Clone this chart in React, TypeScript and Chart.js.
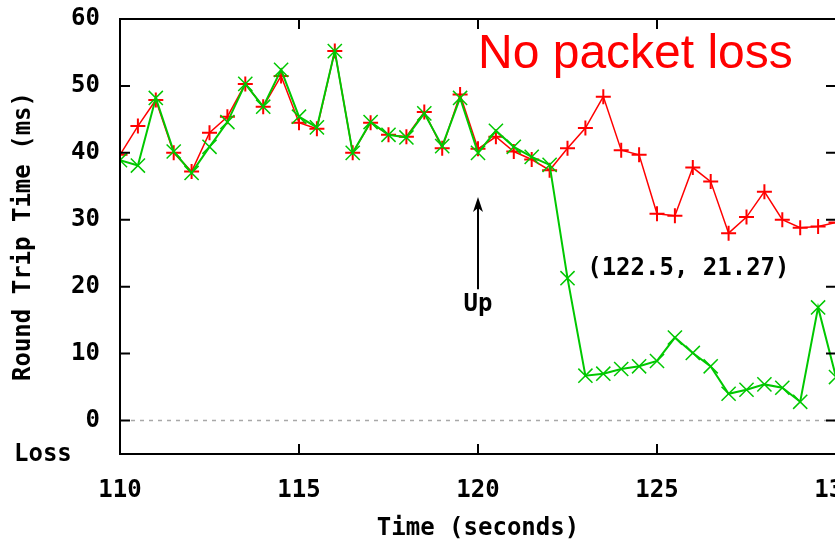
import React, { useEffect, useRef } from 'react';
import { Chart, registerables } from 'chart.js';

Chart.register(...registerables);

// Time axis (seconds)
const times = [
  110, 110.5, 111, 111.5, 112, 112.5, 113, 113.5, 114, 114.5,
  115, 115.5, 116, 116.5, 117, 117.5, 118, 118.5, 119, 119.5,
  120, 120.5, 121, 121.5, 122, 122.5, 123, 123.5, 124, 124.5,
  125, 125.5, 126, 126.5, 127, 127.5, 128, 128.5, 129, 129.5, 130,
];

// Red series (+ markers)
const rttRed = [
  39.7, 44.0, 47.9, 40.0, 37.2, 43.0, 45.4, 50.3, 46.9, 51.5,
  44.5, 43.6, 55.2, 40.0, 44.5, 42.7, 42.4, 46.1, 40.7, 48.7,
  40.6, 42.4, 40.2, 39.0, 37.4, 40.7, 43.7, 48.4, 40.4, 39.7,
  30.9, 30.6, 37.8, 35.7, 28.0, 30.4, 34.2, 30.0, 28.8, 29.0, 29.6,
];

// Green series (x markers)
const rttGreen = [
  38.9, 38.1, 48.2, 40.2, 37.0, 40.9, 44.6, 50.3, 46.9, 52.4,
  45.4, 43.8, 55.2, 40.0, 44.6, 42.7, 42.3, 45.9, 41.0, 48.2,
  40.0, 43.3, 40.9, 39.4, 38.2, 21.27, 6.7, 7.0, 7.7, 8.1,
  8.9, 12.4, 10.1, 8.1, 4.0, 4.6, 5.4, 4.9, 2.8, 16.9, 6.5,
];

const xTickValues = [110, 115, 120, 125, 130];
const yTickValues = [0, 10, 20, 30, 40, 50, 60];
const lossLabel = 'Loss';
const lossLevel = -5;
const xTitle = 'Time (seconds)';
const yTitle = 'Round Trip Time (ms)';
const headline = 'No packet loss';
const upLabel = 'Up';
const upArrow = { x: 120, from: 19.6, to: 33.4, labelY: 17.3 };
const pointLabel = { x: 122.5, y: 21.27, textX: 123.05, textY: 22.7 };
const headlinePos = { x: 120.0, y: 52.7 };

const RED = '#ff0000';
const GREEN = '#00c800';
const MONO = "'DejaVu Sans Mono', monospace";

const decor = {
  id: 'decor',
  beforeDatasetsDraw(chart: any) {
    const { ctx, chartArea: a, scales } = chart;
    const y = scales.y;
    const y0 = y.getPixelForValue(0);
    ctx.save();
    ctx.strokeStyle = '#a8a8a8';
    ctx.lineWidth = 1.5;
    ctx.setLineDash([4, 5]);
    ctx.beginPath();
    ctx.moveTo(a.left + 11, y0);
    ctx.lineTo(a.right, y0);
    ctx.stroke();
    ctx.restore();
  },
  afterDatasetsDraw(chart: any) {
    const { ctx, chartArea: a, scales } = chart;
    const x = scales.x;
    const y = scales.y;
    ctx.save();
    // frame
    ctx.strokeStyle = '#000';
    ctx.lineWidth = 2;
    ctx.strokeRect(a.left, a.top, a.right - a.left, a.bottom - a.top);
    // inward ticks
    const tl = 10;
    ctx.beginPath();
    for (const v of xTickValues) {
      const px = x.getPixelForValue(v);
      ctx.moveTo(px, a.bottom);
      ctx.lineTo(px, a.bottom - tl);
      ctx.moveTo(px, a.top);
      ctx.lineTo(px, a.top + tl);
    }
    for (const v of yTickValues) {
      const py = y.getPixelForValue(v);
      ctx.moveTo(a.left, py);
      ctx.lineTo(a.left + tl, py);
      ctx.moveTo(a.right, py);
      ctx.lineTo(a.right - tl, py);
    }
    ctx.stroke();

    // Loss label
    ctx.fillStyle = '#000';
    ctx.font = `bold 24px ${MONO}`;
    ctx.textAlign = 'left';
    ctx.textBaseline = 'middle';
    ctx.fillText(lossLabel, 14, y.getPixelForValue(lossLevel) + 1);

    // Up arrow
    const ax = x.getPixelForValue(upArrow.x);
    const y1 = y.getPixelForValue(upArrow.from);
    const y2 = y.getPixelForValue(upArrow.to);
    ctx.lineWidth = 2;
    ctx.beginPath();
    ctx.moveTo(ax, y1);
    ctx.lineTo(ax, y2 + 6);
    ctx.stroke();
    ctx.beginPath();
    ctx.moveTo(ax, y2);
    ctx.lineTo(ax - 5, y2 + 15);
    ctx.lineTo(ax, y2 + 11);
    ctx.lineTo(ax + 5, y2 + 15);
    ctx.closePath();
    ctx.fill();

    ctx.textAlign = 'center';
    ctx.fillText(upLabel, ax, y.getPixelForValue(upArrow.labelY));

    ctx.textAlign = 'left';
    ctx.fillText(`(${pointLabel.x}, ${pointLabel.y})`, x.getPixelForValue(pointLabel.textX), y.getPixelForValue(pointLabel.textY));

    // headline
    ctx.fillStyle = RED;
    ctx.font = "48px 'Liberation Sans', Arial, sans-serif";
    ctx.textBaseline = 'alphabetic';
    ctx.fillText(headline, x.getPixelForValue(headlinePos.x), y.getPixelForValue(headlinePos.y));
    ctx.restore();
  },
};

const zeroPad = (s: any) => {
  s.paddingTop = 0;
  s.paddingBottom = 0;
  s.paddingLeft = 0;
  s.paddingRight = 0;
};

export default function App() {
  const ref = useRef<HTMLCanvasElement | null>(null);
  useEffect(() => {
    if (!ref.current) return;
    const font = { family: MONO, weight: 'bold' as const, size: 24, lineHeight: 1 };
    const chart = new Chart(ref.current, {
      type: 'line',
      data: {
        datasets: [
          {
            label: 'green',
            data: times.map((t, i) => ({ x: t, y: rttGreen[i] })),
            borderColor: GREEN,
            backgroundColor: GREEN,
            borderWidth: 2,
            pointStyle: 'crossRot',
            pointRadius: 10,
            pointBorderWidth: 1.5,
            pointBorderColor: GREEN,
            tension: 0,
          },
          {
            label: 'red',
            data: times.map((t, i) => ({ x: t, y: rttRed[i] })),
            borderColor: RED,
            backgroundColor: RED,
            borderWidth: 1.5,
            pointStyle: 'cross',
            pointRadius: 7.5,
            pointBorderWidth: 2,
            pointBorderColor: RED,
            tension: 0,
          },
        ],
      },
      options: {
        responsive: false,
        animation: false,
        devicePixelRatio: 1,
        layout: { padding: { left: 0, right: 24, top: 19, bottom: 0 } },
        plugins: { legend: { display: false }, tooltip: { enabled: false }, title: { display: false } },
        scales: {
          x: {
            type: 'linear',
            min: 110,
            max: 130,
            afterBuildTicks: (s: any) => { s.ticks = xTickValues.map((v) => ({ value: v })); },
            afterFit: (s: any) => { s.height = 87; zeroPad(s); },
            grid: { display: false, drawTicks: false },
            border: { display: false },
            ticks: { color: '#000', font, padding: 25, maxRotation: 0, autoSkip: false },
            title: { display: true, text: xTitle, color: '#000', font, padding: 0 },
          },
          y: {
            type: 'linear',
            min: lossLevel,
            max: 60,
            afterBuildTicks: (s: any) => { s.ticks = yTickValues.map((v) => ({ value: v })); },
            afterFit: (s: any) => { s.width = 120; zeroPad(s); },
            grid: { display: false, drawTicks: false },
            border: { display: false },
            ticks: { color: '#000', font, padding: 20, autoSkip: false },
            title: { display: true, text: yTitle, color: '#000', font, padding: { top: 12, bottom: 0 } },
          },
        },
      },
      plugins: [decor],
    } as any);
    return () => chart.destroy();
  }, []);
  return (
    <div style={{ position: 'fixed', left: 0, top: 0, width: 835, height: 541, overflow: 'hidden', background: '#fff' }}>
      <canvas ref={ref} width={860} height={541} style={{ display: 'block', width: 860, height: 541 }} />
    </div>
  );
}
